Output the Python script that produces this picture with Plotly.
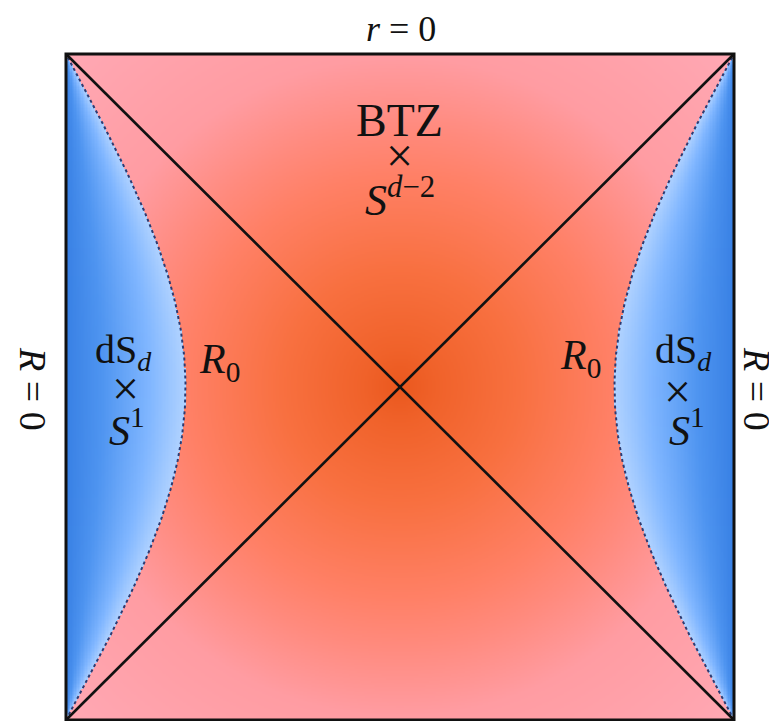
import numpy as np
import plotly.graph_objects as go

# ---- diagram parameters (Penrose diagram) ----
R0_K = 0.533          # constant-R0 curve: cos(pi x/2) = k cos(pi t/2)
GRID_N = 480          # shading resolution

labels_text = ["<i>r</i>&nbsp;=&nbsp;0", "BTZ", "×", "<i>S</i><sup><i>d</i>−2</sup>",
               "dS<sub><i>d</i></sub>", "×", "<i>S</i><sup>1</sup>", "<i>R</i><sub>0</sub>",
               "dS<sub><i>d</i></sub>", "×", "<i>S</i><sup>1</sup>", "<i>R</i><sub>0</sub>",
               "<i>R</i>&nbsp;=&nbsp;0", "<i>R</i>&nbsp;=&nbsp;0"]

red_scale = [[0.0, "rgb(234,88,30)"], [0.08, "rgb(240,98,42)"], [0.25, "rgb(248,112,64)"],
             [0.45, "rgb(255,128,102)"], [0.55, "rgb(255,138,125)"], [0.7, "rgb(255,156,162)"],
             [1.0, "rgb(255,168,180)"]]
blue_scale = [[0.0, "rgb(56,128,228)"], [0.3, "rgb(78,148,240)"], [0.7, "rgb(128,182,255)"],
              [1.0, "rgb(176,210,255)"]]


def curve_x(t):
    return (2 / np.pi) * np.arccos(R0_K * np.cos(np.pi * t / 2))


# shading grid
c = (np.arange(GRID_N) + 0.5) / GRID_N * 2 - 1
X, Y = np.meshgrid(c, c)
XC = curve_x(Y)
inside_red = np.abs(X) < XC
D = np.sqrt(X ** 2 + Y ** 2) / np.sqrt(2)
z_red = np.where(inside_red, D, np.nan).astype(np.float32)
T = np.clip((1 - np.abs(X)) / np.maximum(1 - XC, 1e-6), 0, 1)
z_blue = np.where(~inside_red, T, np.nan).astype(np.float32)

fig = go.Figure()
fig.add_trace(go.Heatmap(x=c, y=c, z=z_red, colorscale=red_scale, zmin=0, zmax=1,
                         showscale=False, hoverinfo="skip"))
fig.add_trace(go.Heatmap(x=c, y=c, z=z_blue, colorscale=blue_scale, zmin=0, zmax=1,
                         showscale=False, hoverinfo="skip"))

# dotted R0 curves
ts = np.linspace(-1, 1, 201)
xs = curve_x(ts)
for sgn in (-1, 1):
    fig.add_trace(go.Scatter(x=sgn * xs, y=ts, mode="lines",
                             line=dict(color="#2c3b72", width=2, dash="dot"),
                             hoverinfo="skip", showlegend=False))

# horizons (diagonals)
fig.add_trace(go.Scatter(x=[-1, 1], y=[-1, 1], mode="lines",
                         line=dict(color="#111111", width=2.6), hoverinfo="skip", showlegend=False))
fig.add_trace(go.Scatter(x=[-1, 1], y=[1, -1], mode="lines",
                         line=dict(color="#111111", width=2.6), hoverinfo="skip", showlegend=False))

fig.add_shape(type="rect", x0=-1, y0=-1, x1=1, y1=1, xref="x", yref="y",
              line=dict(color="#111111", width=3), fillcolor="rgba(0,0,0,0)")

# page offset (browser body margin) = 8 px
OFF = 8
W, H = 777 - OFF, 723 - OFF
SX, SY, CX, CY = 334.0, 333.0, 400.0, 387.0
XR = [-1 - 4 / SX, 1 + 4 / SX]
YR = [-1 - 1 / SY, 1 + 4 / SY]
ML = int(round(CX - SX * (-XR[0]) - OFF))
MT = int(round(CY - SY * YR[1] - OFF))
PW = SX * (XR[1] - XR[0])
PH = SY * (YR[1] - YR[0])
MR = int(round(W - ML - PW))
MB = int(round(H - MT - PH))


def to_paper(xp, yp):
    fx, fy = xp - OFF, yp - OFF
    return (fx - ML) / PW, 1 - (fy - MT) / PH


FONT = "Liberation Serif"
ann_pos = [(401, 29, 36, 0), (400, 120, 46, 0), (400, 156, 48, 0), (400, 197, 44, 0),
           (124, 352, 40, 0), (126, 389, 48, 0), (127, 427, 42, 0), (220, 362, 42, 0),
           (684, 352, 40, 0), (678, 391, 48, 0), (687, 427, 42, 0), (580, 358, 42, 0),
           (33, 389, 38, 90), (757, 389, 38, 90)]
for txt, (xp, yp, fs, ang) in zip(labels_text, ann_pos):
    xpp, ypp = to_paper(xp, yp)
    fig.add_annotation(x=xpp, y=ypp, xref="paper", yref="paper", text=txt, showarrow=False,
                       textangle=ang, xanchor="center", yanchor="middle",
                       font=dict(family=FONT, size=fs, color="#111111"))

fig.update_xaxes(range=XR, visible=False, fixedrange=True)
fig.update_yaxes(range=YR, visible=False, fixedrange=True)
fig.update_layout(width=W, height=H, paper_bgcolor="white", plot_bgcolor="white",
                  margin=dict(l=ML, r=MR, t=MT, b=MB, autoexpand=False), showlegend=False)

fig.write_html("out.html")
